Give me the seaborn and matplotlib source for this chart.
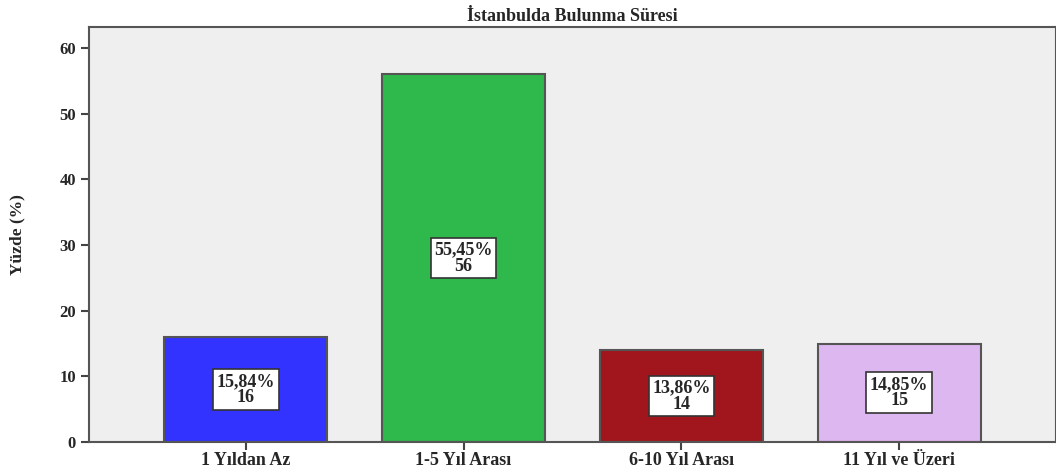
import pandas as pd
import matplotlib
matplotlib.use("Agg")
import matplotlib.pyplot as plt
import seaborn as sns

# %% Data
categories = ["1 Yıldan Az", "1-5 Yıl Arası", "6-10 Yıl Arası", "11 Yıl ve Üzeri"]
counts = [16, 56, 14, 15]
percents = ["15,84%", "55,45%", "13,86%", "14,85%"]
colors = ["#3333ff", "#2fb84b", "#a1161c", "#ddb7f0"]

df = pd.DataFrame({"Süre": categories, "Sayı": counts})

# %% Style
sns.set_style("ticks")
plt.rcParams["font.family"] = ["Liberation Serif", "DejaVu Serif"]
plt.rcParams["font.weight"] = "bold"

fig = plt.figure(figsize=(10.56, 4.69), dpi=100)
ax = fig.add_axes([89 / 1056, 27 / 469, (1056 - 89) / 1056, (442 - 27) / 469])
ax.set_facecolor("#efefef")

sns.barplot(data=df, x="Süre", y="Sayı", hue="Süre", palette=colors,
            saturation=1, width=0.75, edgecolor="#555555", linewidth=1.5,
            legend=False, ax=ax)

# labels in white boxes at mid-height
for i, (c, p) in enumerate(zip(counts, percents)):
    ax.text(i, c / 2, f"{p}\n{c}", ha="center", va="center", fontsize=13,
            fontweight="bold", linespacing=0.95,
            bbox=dict(boxstyle="square,pad=0.2", facecolor="white",
                      edgecolor="#333333", linewidth=1.2))

ax.set_xlim(-0.72, 3.72)
ax.set_ylim(0, 63.2)
ax.set_yticks([0, 10, 20, 30, 40, 50, 60])
ax.set_title("İstanbulda Bulunma Süresi", fontsize=13, fontweight="bold", pad=4)
ax.set_ylabel("Yüzde (%)", fontsize=12.5, fontweight="bold", labelpad=24)
ax.set_xlabel("")
ax.tick_params(axis="both", labelsize=13, length=6, width=1.5, color="#444444")
ax.tick_params(axis="y", labelsize=12)
ax.tick_params(axis="x", pad=1)
for lbl in ax.get_xticklabels() + ax.get_yticklabels():
    lbl.set_fontweight("bold")
for s in ax.spines.values():
    s.set_color("#555555")
    s.set_linewidth(1.5)

fig.savefig("out.png", dpi=100)
